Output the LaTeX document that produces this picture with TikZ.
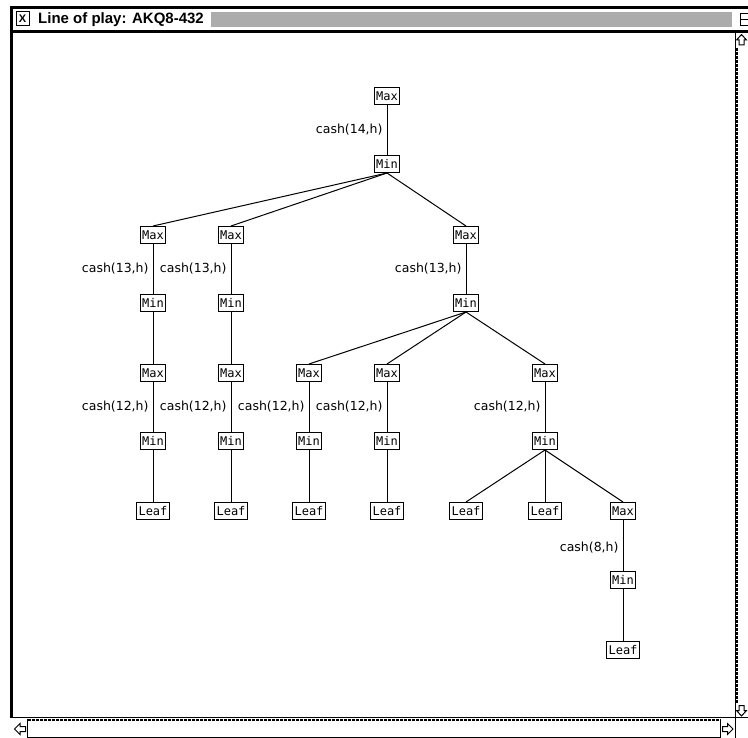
\documentclass[tikz,border=0pt]{standalone}
\usepackage{fontspec}
\setmainfont{DejaVu Sans}
\newfontfamily\nodefont{DejaVu Sans Mono}
\newfontfamily\titlefont{Liberation Sans}
\begin{document}
\begin{tikzpicture}[x=1pt,y=-1pt,
  treenode/.style={draw, line width=1pt, fill=white, inner xsep=1.8pt, inner ysep=0pt,
    minimum height=17pt, font=\nodefont\fontsize{12}{12}\selectfont},
  edge/.style={line width=1pt},
  lbl/.style={anchor=east, inner sep=0pt, xshift=-4pt, font=\fontsize{12.5}{13}\selectfont},
  frame/.style={line width=1pt},
  arrowshape/.style={draw, line width=1pt, fill=white}]
\useasboundingbox (0,0) rectangle (748,738);
\fill[white] (0,0) rectangle (748,738);
% ---- window frame ----
\fill[black] (10,6) rectangle (748,9);
\fill[black] (10,6) rectangle (13,718);
\fill[black] (10,30) rectangle (748,33);
% title icon
\node[draw, line width=1pt, minimum width=13pt, minimum height=14pt, inner sep=0pt,
  font=\titlefont\bfseries\fontsize{11}{11}\selectfont] (icon) at (22.5,19) {X};
\node[anchor=west, inner sep=0pt, font=\titlefont\bfseries\fontsize{15}{16}\selectfont] (title) at (38,19.5) {Line of play: AKQ8-432};
\fill[gray!65] (211,12) rectangle (732,27);
\begin{scope}
\clip (735,9) rectangle (748,30);
\draw[line width=1pt] (740.5,13.5) rectangle (754,25.5);
\draw[line width=1pt] (740.5,19.5) -- (754,19.5);
\end{scope}
% right scrollbar
\draw[frame] (735.5,33) -- (735.5,738);
\draw[arrowshape] (741.5,34.5) -- (746.5,40) -- (744,40) -- (744,45) -- (739,45) -- (739,40) -- (736.5,40) -- cycle;
\draw[line width=2pt, dash pattern=on 3pt off 1pt] (737,48) -- (737,703);
\draw[arrowshape] (741.5,716) -- (746.5,710.5) -- (744,710.5) -- (744,705.5) -- (739,705.5) -- (739,710.5) -- (736.5,710.5) -- cycle;
% bottom scrollbar
\draw[frame] (10,717.5) -- (748,717.5);
\draw[arrowshape] (14.5,729) -- (20,723.5) -- (20,726.5) -- (25.5,726.5) -- (25.5,731.5) -- (20,731.5) -- (20,734.5) -- cycle;
\draw[frame] (27.5,719) -- (27.5,738);
\draw[line width=2pt, dash pattern=on 3pt off 1pt] (28,720) -- (720,720);
\draw[frame] (720.5,719) -- (720.5,737.5) -- (27.5,737.5);
\draw[arrowshape] (733,729) -- (727.5,723.5) -- (727.5,726.5) -- (722.5,726.5) -- (722.5,731.5) -- (727.5,731.5) -- (727.5,734.5) -- cycle;
% ---- tree nodes ----
\node[treenode] (n0) at (387,96) {Max};
\node[treenode] (n1) at (387,164) {Min};
\node[treenode] (a1) at (153,235) {Max};
\node[treenode] (a2) at (231,235) {Max};
\node[treenode] (a3) at (466,235) {Max};
\node[treenode] (b1) at (153,303) {Min};
\node[treenode] (b2) at (231,303) {Min};
\node[treenode] (b3) at (466,303) {Min};
\node[treenode] (c1) at (153,373) {Max};
\node[treenode] (c2) at (231,373) {Max};
\node[treenode] (c3) at (309,373) {Max};
\node[treenode] (c4) at (387,373) {Max};
\node[treenode] (c5) at (545,373) {Max};
\node[treenode] (d1) at (153,441) {Min};
\node[treenode] (d2) at (231,441) {Min};
\node[treenode] (d3) at (309,441) {Min};
\node[treenode] (d4) at (387,441) {Min};
\node[treenode] (d5) at (545,441) {Min};
\node[treenode] (e1) at (153,511) {Leaf};
\node[treenode] (e2) at (231,511) {Leaf};
\node[treenode] (e3) at (309,511) {Leaf};
\node[treenode] (e4) at (387,511) {Leaf};
\node[treenode] (e5) at (466,511) {Leaf};
\node[treenode] (e6) at (545,511) {Leaf};
\node[treenode] (e7) at (623,511) {Max};
\node[treenode] (f1) at (623,580) {Min};
\node[treenode] (g1) at (623,650) {Leaf};
% ---- edges with labels ----
\draw[edge] (n0.south) -- node[lbl] (l0) {cash(14,h)} (n1.north);
\draw[edge] (n1.south) -- (a1.north);
\draw[edge] (n1.south) -- (a2.north);
\draw[edge] (n1.south) -- (a3.north);
\draw[edge] (a1.south) -- node[lbl] (l1) {cash(13,h)} (b1.north);
\draw[edge] (a2.south) -- node[lbl] (l2) {cash(13,h)} (b2.north);
\draw[edge] (a3.south) -- node[lbl] (l3) {cash(13,h)} (b3.north);
\draw[edge] (b1.south) -- (c1.north);
\draw[edge] (b2.south) -- (c2.north);
\draw[edge] (b3.south) -- (c3.north);
\draw[edge] (b3.south) -- (c4.north);
\draw[edge] (b3.south) -- (c5.north);
\draw[edge] (c1.south) -- node[lbl] (l4) {cash(12,h)} (d1.north);
\draw[edge] (c2.south) -- node[lbl] (l5) {cash(12,h)} (d2.north);
\draw[edge] (c3.south) -- node[lbl] (l6) {cash(12,h)} (d3.north);
\draw[edge] (c4.south) -- node[lbl] (l7) {cash(12,h)} (d4.north);
\draw[edge] (c5.south) -- node[lbl] (l8) {cash(12,h)} (d5.north);
\draw[edge] (d1.south) -- (e1.north);
\draw[edge] (d2.south) -- (e2.north);
\draw[edge] (d3.south) -- (e3.north);
\draw[edge] (d4.south) -- (e4.north);
\draw[edge] (d5.south) -- (e5.north);
\draw[edge] (d5.south) -- (e6.north);
\draw[edge] (d5.south) -- (e7.north);
\draw[edge] (e7.south) -- node[lbl, pos=0.55] (l9) {cash(8,h)} (f1.north);
\draw[edge] (f1.south) -- (g1.north);
\end{tikzpicture}
\end{document}
